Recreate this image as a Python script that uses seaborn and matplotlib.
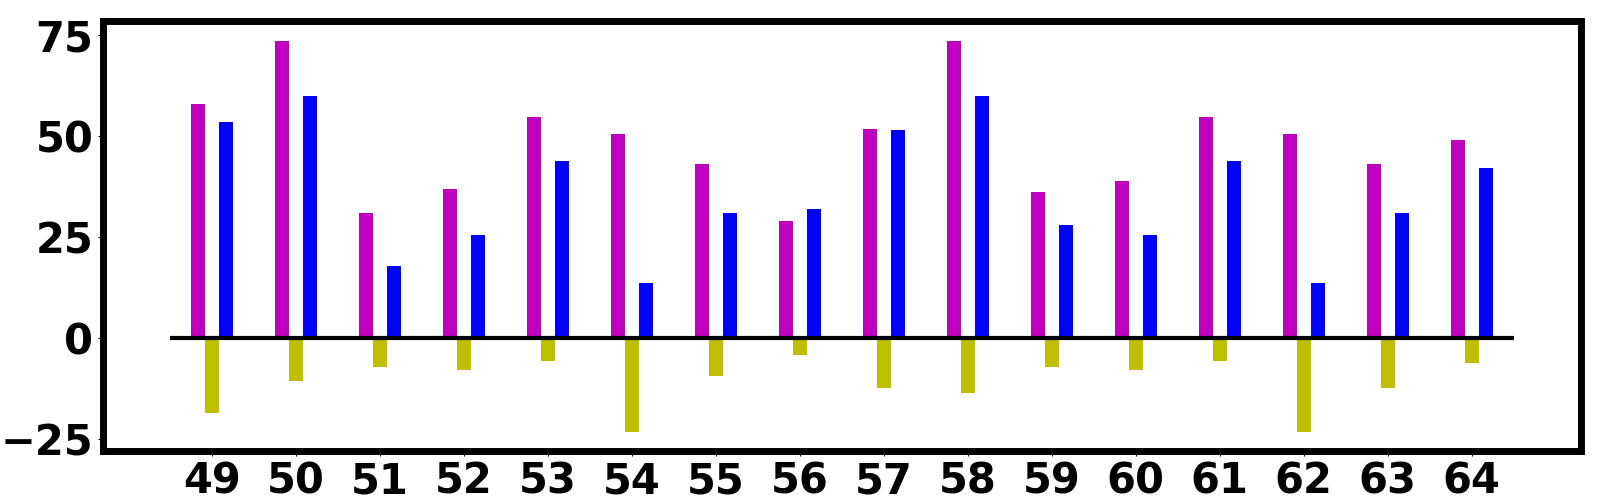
import matplotlib
matplotlib.use("Agg")
import matplotlib.pyplot as plt
import seaborn as sns
import pandas as pd

categories = list(range(49, 65))
magenta_vals = [58.0, 73.6, 31.0, 37.0, 54.8, 50.6, 43.1, 29.0, 51.8, 73.6, 36.2, 38.9, 54.8, 50.6, 43.1, 49.1]
yellow_vals = [-18.4, -10.5, -7.0, -7.8, -5.5, -23.1, -9.3, -4.1, -12.2, -13.5, -7.0, -7.8, -5.5, -23.1, -12.2, -6.0]
blue_vals = [53.5, 60.0, 17.9, 25.6, 43.9, 13.7, 31.0, 32.0, 51.6, 60.0, 28.0, 25.6, 43.9, 13.7, 31.0, 42.2]
series_names = ["A", "B", "C"]
series_colors = ["#BF00BF", "#BFBF00", "#0000FF"]
y_ticks = [-25, 0, 25, 50, 75]

rows = []
for name, vals in zip(series_names, [magenta_vals, yellow_vals, blue_vals]):
    for c, v in zip(categories, vals):
        rows.append({"x": c, "value": v, "series": name})
df = pd.DataFrame(rows)

fig = plt.figure(figsize=(16, 5), dpi=100)
ax = fig.add_axes([0.0644, 0.0986, 0.9236, 0.86])

sns.barplot(data=df, x="x", y="value", hue="series", hue_order=series_names,
            palette=series_colors, native_scale=True, width=0.5, saturation=1,
            errorbar=None, legend=False, linewidth=0, ax=ax)

ax.hlines(0, 48.5, 64.5, color="black", linewidth=3, zorder=5)

ax.set_xlim(47.7, 65.3)
ax.set_ylim(-27.8, 78.6)
ax.set_xticks(categories)
ax.set_xticklabels([str(c) for c in categories])
ax.set_yticks(y_ticks)
ax.set_xlabel("")
ax.set_ylabel("")
for lab in ax.get_xticklabels() + ax.get_yticklabels():
    lab.set_fontsize(30)
    lab.set_fontweight("bold")
for sp in ax.spines.values():
    sp.set_linewidth(5)
    sp.set_color("black")

fig.savefig("out.png", dpi=100)
